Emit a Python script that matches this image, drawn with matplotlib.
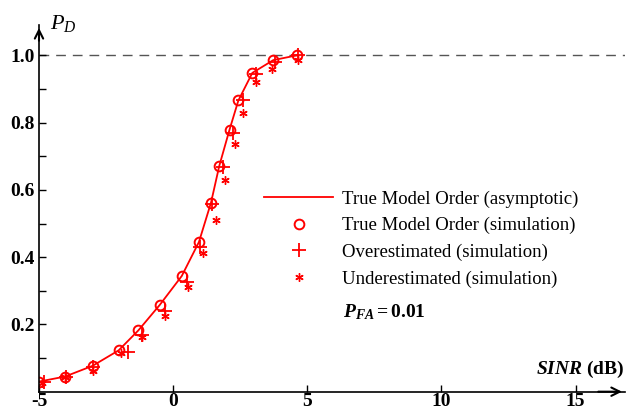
import matplotlib
matplotlib.use('Agg')
import matplotlib.pyplot as plt

plt.rcParams['font.family'] = 'Liberation Serif'
plt.rcParams['mathtext.fontset'] = 'custom'
plt.rcParams['mathtext.rm'] = 'Liberation Serif'
plt.rcParams['mathtext.it'] = 'Liberation Serif:italic'
plt.rcParams['mathtext.bf'] = 'Liberation Serif:bold'
plt.rcParams['mathtext.bfit'] = 'Liberation Serif:bold:italic'

# True model order (asymptotic line + simulation circles)
sinr_true = [-5.0, -4.03, -3.0, -2.03, -1.3, -0.5, 0.32, 0.96, 1.41, 1.72, 2.1, 2.43, 2.95, 3.73, 4.6]
pd_true = [0.030, 0.045, 0.077, 0.123, 0.182, 0.258, 0.344, 0.445, 0.562, 0.672, 0.779, 0.866, 0.948, 0.986, 1.0]

# Overestimated model order (simulation)
sinr_over = [-4.8, -4.0, -3.0, -1.7, -1.17, -0.3, 0.5, 1.0, 1.45, 1.87, 2.24, 2.61, 3.1, 3.8, 4.65]
pd_over = [0.030, 0.044, 0.072, 0.119, 0.168, 0.240, 0.327, 0.430, 0.558, 0.667, 0.768, 0.866, 0.944, 0.980, 1.0]

# Underestimated model order (simulation)
sinr_under = [-4.9, -4.03, -2.97, -1.95, -1.15, -0.29, 0.57, 1.11, 1.58, 1.94, 2.29, 2.59, 3.07, 3.68, 4.65]
pd_under = [0.027, 0.044, 0.062, 0.114, 0.162, 0.226, 0.310, 0.412, 0.510, 0.629, 0.736, 0.830, 0.920, 0.961, 0.986]

x_ticks = [-5, 0, 5, 10, 15]
y_ticks = [0.2, 0.4, 0.6, 0.8, 1.0]
y_minor = [0.1, 0.3, 0.5, 0.7, 0.9]

fig = plt.figure(figsize=(6.33, 4.13), dpi=100)
ax = fig.add_axes([0.0616, 0.0516, 0.9254, 0.8875])
ax.set_xlim(-5, 16.83)
ax.set_ylim(0, 1.09)

red = '#ff0000'
ax.plot(sinr_true, pd_true, color=red, lw=1.3, label='True Model Order (asymptotic)')
ax.plot(sinr_true, pd_true, 'o', ms=7, mfc='none', mec=red, mew=1.4, ls='none',
        label='True Model Order (simulation)')
ax.plot(sinr_over, pd_over, '+', ms=10, mec=red, mew=1.3, ls='none',
        label='Overestimated (simulation)')
ax.plot(sinr_under, pd_under, marker=(6, 2, 0), ms=6, mec=red, mew=1.0, ls='none',
        label='Underestimated (simulation)')

ax.axhline(1.0, color='#555555', lw=1.0, dashes=(7, 5), zorder=0)

for s in ['top', 'right']:
    ax.spines[s].set_visible(False)
ax.spines['left'].set_linewidth(1.2)
ax.spines['bottom'].set_linewidth(1.2)

ax.set_xticks(x_ticks)
ax.set_yticks(y_ticks)
ax.set_yticks(y_minor, minor=True)
ax.set_yticklabels([f'{v:.1f}' for v in y_ticks], fontweight='bold', fontsize=14)
ax.set_xticklabels([str(v) for v in x_ticks], fontweight='bold', fontsize=14)
ax.tick_params(axis='y', direction='in', length=5, width=1, pad=3)
ax.tick_params(axis='x', direction='in', length=5, width=1, pad=1)
ax.tick_params(which='minor', direction='in', length=5, width=1)

# axis arrows
ax.annotate('', xy=(1.0, 0), xytext=(0.95, 0), xycoords='axes fraction',
            arrowprops=dict(arrowstyle='->,head_length=0.6,head_width=0.3', lw=1.5, color='black'))
ax.annotate('', xy=(0, 1.0), xytext=(0, 0.95), xycoords='axes fraction',
            arrowprops=dict(arrowstyle='->,head_length=0.6,head_width=0.3', lw=1.5, color='black'))

ax.text(0.018, 1.005, r'$P_D$', transform=ax.transAxes, fontsize=16, va='center', ha='left')
ax.text(1.0, 0.062, r'$\mathbfit{SINR}$ $\mathbf{(dB)}$', transform=ax.transAxes,
        fontsize=14, ha='right', va='center')
ax.text(0.519, 0.217, r'$\mathbfit{P}_{\mathbfit{FA}}\mathbf{ = 0.01}$', transform=ax.transAxes,
        fontsize=14, ha='left', va='center')

ax.legend(loc='upper left', bbox_to_anchor=(0.371, 0.57), frameon=False, fontsize=13.5,
          handlelength=3.7, handletextpad=0.45, labelspacing=0.5, borderaxespad=0)

fig.savefig('out.png', dpi=100)
